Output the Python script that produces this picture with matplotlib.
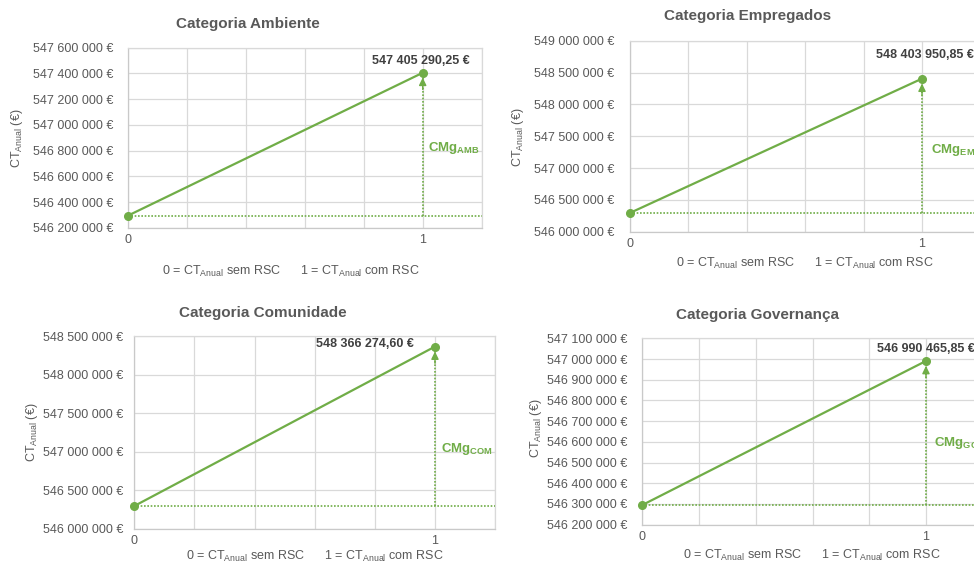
import matplotlib
matplotlib.use("Agg")
import numpy as np
import matplotlib.pyplot as plt
from matplotlib.ticker import FuncFormatter, MultipleLocator

plt.rcParams['font.family'] = ['Liberation Sans', 'DejaVu Sans']
plt.rcParams['mathtext.fontset'] = 'custom'
plt.rcParams['mathtext.rm'] = 'Liberation Sans'
plt.rcParams['mathtext.it'] = 'Liberation Sans:italic'
plt.rcParams['mathtext.bf'] = 'Liberation Sans:bold'

# ---- data ----
categories = ["Ambiente", "Empregados", "Comunidade", "Governança"]
codes = ["AMB", "EMP", "COM", "GOV"]
ct_sem_rsc = 546_295_000.0
ct_com_rsc = [547_405_290.25, 548_403_950.85, 548_366_274.60, 546_990_465.85]
y_min = [546_200_000, 546_000_000, 546_000_000, 546_200_000]
y_max = [547_600_000, 549_000_000, 548_500_000, 547_100_000]
y_step = [200_000, 500_000, 500_000, 100_000]
x_ticks = [0, 1]

# ---- style ----
W, H, DPI = 974, 564, 100
GREEN = "#70AD47"
GRAY = "#595959"
DARK = "#404040"
GRID = "#D9D9D9"

# per-panel layout in pixels: axes box (left, top, right, bottom), text anchors
layout = [
    dict(box=(127.7, 47.7, 481.7, 228.0), title=(248, 24), ylab=(17, 138), xlab=(291, 271),
         ypad=10.6, val=(-2, 12), cmg=(5, -4)),
    dict(box=(630.0, 40.7, 980.4, 231.7), title=(748, 16), ylab=(518, 137), xlab=(805, 263),
         ypad=11.5, val=(3, 24), cmg=(9, -4)),
    dict(box=(134.3, 336.3, 495.1, 528.7), title=(263, 313), ylab=(32, 432), xlab=(315, 556),
         ypad=7.9, val=(-70, 3), cmg=(6, -23)),
    dict(box=(642.3, 338.3, 982.7, 524.7), title=(758, 315), ylab=(536, 428), xlab=(812, 555),
         ypad=10.8, val=(0, 12), cmg=(8, -10)),
]


def eur_int(v, _=None):
    return f"{v:,.0f} €".replace(",", " ")


def eur_dec(v):
    s = f"{v:,.2f}"
    return s.replace(",", "X").replace(".", ",").replace("X", " ") + " €"


def px(x, y):
    return x / W, 1 - y / H


fig = plt.figure(figsize=(W / DPI, H / DPI), dpi=DPI)

xlabel_txt = r"0 = CT$_{\mathrm{Anual}}$ sem RSC      1 = CT$_{\mathrm{Anual}}$ com RSC"

for i, cat in enumerate(categories):
    lay = layout[i]
    l, t, r, b = lay["box"]
    ax = fig.add_axes([l / W, 1 - b / H, (r - l) / W, (b - t) / H])
    top = ct_com_rsc[i]

    ax.set_xlim(0, 1.2)
    ax.set_ylim(y_min[i], y_max[i])
    ax.set_xticks(x_ticks)
    ax.set_xticks(np.arange(0, 1.21, 0.2), minor=True)
    ax.yaxis.set_major_locator(MultipleLocator(y_step[i]))
    ax.yaxis.set_major_formatter(FuncFormatter(eur_int))
    ax.grid(True, which="both", axis="x", color=GRID, lw=0.9)
    ax.grid(True, which="major", axis="y", color=GRID, lw=0.9)
    ax.set_axisbelow(True)
    ax.tick_params(axis="both", which="both", length=0, labelsize=9, labelcolor=GRAY)
    ax.tick_params(axis="y", pad=lay["ypad"])
    ax.tick_params(axis="x", pad=4.5)
    for side, sp in ax.spines.items():
        sp.set_color("#C9C9C9" if side in ("left", "bottom") else GRID)
        sp.set_linewidth(0.9)

    # baseline (CT sem RSC) and vertical marginal-cost arrow
    ax.axhline(ct_sem_rsc, ls=(0, (1, 1)), color=GREEN, lw=1.2, zorder=3)
    ax.plot([1, 1], [ct_sem_rsc, top], ls=(0, (1, 1)), color=GREEN, lw=1.2, zorder=3)
    ax.annotate("", xy=(1, top), xytext=(0, -12), textcoords="offset points",
                arrowprops=dict(arrowstyle="-|>,head_length=0.45,head_width=0.22",
                                color=GREEN, lw=1.0, shrinkA=0, shrinkB=3.5,
                                mutation_scale=10), zorder=4)

    # cost line between the two scenarios
    ax.plot(x_ticks, [ct_sem_rsc, top], color=GREEN, lw=1.6, marker="o",
            ms=5.5, zorder=5, clip_on=False)

    ax.annotate(eur_dec(top), xy=(1, top), xytext=lay["val"], textcoords="offset pixels",
                ha="center", va="center", fontsize=9, fontweight="bold", color=DARK,
                annotation_clip=False)
    ax.annotate(r"$\mathbf{CMg}_{\mathbf{%s}}$" % codes[i], xy=(1, (ct_sem_rsc + top) / 2),
                xytext=lay["cmg"], textcoords="offset pixels", ha="left", va="center",
                fontsize=9.5, color=GREEN, annotation_clip=False)

    fig.text(*px(*lay["title"]), f"Categoria {cat}", ha="center", va="center",
             fontsize=11, fontweight="bold", color=GRAY)
    fig.text(*px(*lay["ylab"]), r"CT$_{\mathrm{Anual}}$ (€)", ha="center", va="center",
             rotation=90, fontsize=9, color=GRAY)
    fig.text(*px(*lay["xlab"]), xlabel_txt, ha="center", va="center",
             fontsize=9, color=GRAY)

fig.savefig("out.png", dpi=DPI)
